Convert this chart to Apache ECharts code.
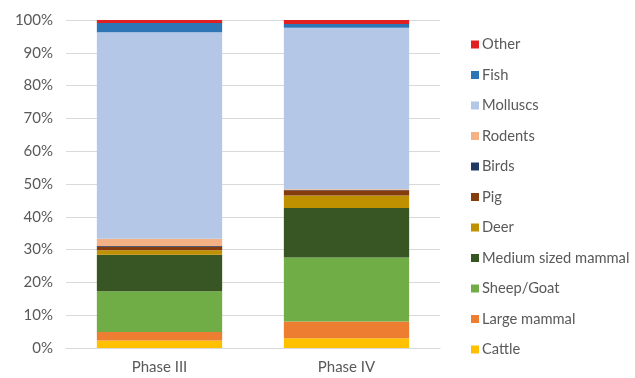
<!DOCTYPE html>
<html>
<head>
<meta charset="utf-8">
<script src="https://cdn.jsdelivr.net/npm/echarts@6/dist/echarts.min.js"></script>
<style>
  html, body { margin: 0; padding: 0; background: #fff; }
  #chart { width: 635px; height: 378px; }
</style>
</head>
<body>
<div id="chart"></div>
<script>
// Share of faunal remains per phase (%)
const phases = ['Phase III', 'Phase IV'];
const seriesNames = ['Cattle', 'Large mammal', 'Sheep/Goat', 'Medium sized mammal', 'Deer', 'Pig', 'Birds', 'Rodents', 'Molluscs', 'Fish', 'Other'];
const cattle = [2.3, 3.0];
const largeMammal = [2.6, 5.1];
const sheepGoat = [12.4, 19.5];
const mediumMammal = [11.1, 15.1];
const deer = [1.4, 3.8];
const pig = [1.1, 1.6];
const birds = [0.2, 0.1];
const rodents = [2.2, 0.2];
const molluscs = [63.0, 49.2];
const fish = [2.8, 1.2];
const other = [0.9, 1.2];
const yTicks = [0, 10, 20, 30, 40, 50, 60, 70, 80, 90, 100];

const values = [cattle, largeMammal, sheepGoat, mediumMammal, deer, pig, birds, rodents, molluscs, fish, other];
const colors = ['#ffc000', '#ed7d31', '#70ad47', '#375623', '#bf9000', '#843c0c', '#203864', '#f4b183', '#b4c7e7', '#2e75b6', '#e02020'];

const chart = echarts.init(document.getElementById('chart'));
chart.setOption({
  animation: false,
  textStyle: { fontFamily: 'Lato, Open Sans, sans-serif' },
  grid: { left: 66, right: 195, top: 20, bottom: 30 },
  legend: {
    orient: 'vertical',
    left: 466,
    top: 32,
    itemWidth: 8,
    itemHeight: 8,
    itemGap: 15.5,
    icon: 'rect',
    textStyle: { color: '#595959', fontSize: 14.7, padding: [0, 0, 0, -2] },
    data: seriesNames.slice().reverse()
  },
  xAxis: {
    type: 'category',
    data: phases,
    axisLine: { lineStyle: { color: '#d9d9d9' } },
    axisTick: { show: false },
    axisLabel: { color: '#595959', fontSize: 15, margin: 12 }
  },
  yAxis: {
    type: 'value',
    min: yTicks[0],
    max: yTicks[yTicks.length - 1],
    interval: 10,
    axisLine: { show: false },
    axisTick: { show: false },
    splitLine: { lineStyle: { color: '#d9d9d9' } },
    axisLabel: { color: '#595959', fontSize: 15, margin: 13, formatter: v => v + '%' }
  },
  series: seriesNames.map((name, i) => ({
    name,
    type: 'bar',
    stack: 'total',
    barWidth: '67%',
    itemStyle: { color: colors[i] },
    data: values[i]
  }))
});
</script>
</body>
</html>
